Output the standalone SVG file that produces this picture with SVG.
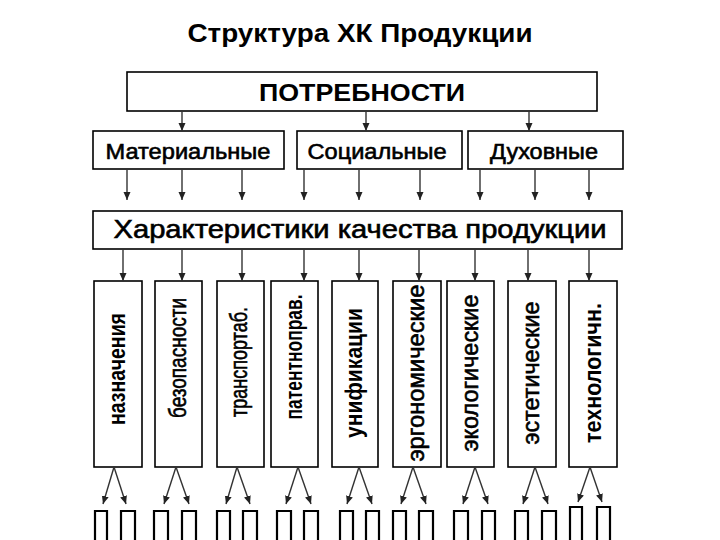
<svg xmlns="http://www.w3.org/2000/svg" width="720" height="540" viewBox="0 0 720 540">
<defs>
<marker id="ah" markerUnits="userSpaceOnUse" markerWidth="8" markerHeight="8" refX="8" refY="4" orient="auto">
<path d="M0,0.5 L8,4 L0,7.5 z" fill="#222"/>
</marker>
<style>
.box{fill:#fff;stroke:#000;stroke-width:1.6}
.t{font-family:"Liberation Sans",Arial,sans-serif;fill:#000;text-anchor:middle}
.b{font-weight:bold}
.m{stroke:#000;stroke-width:0.6}
.v{font-size:24px}
.c line{stroke:#333;stroke-width:1.4;marker-end:url(#ah)}
.o{fill:none;stroke:#000;stroke-width:2.2}
</style>
</defs>
<rect width="720" height="540" fill="#fff"/>
<text class="t b" x="360" y="42" font-size="25" textLength="345" lengthAdjust="spacingAndGlyphs">Структура ХК Продукции</text>

<g id="potrebnosti"><rect class="box" x="127" y="72" width="470" height="39"/><text class="t b" x="362" y="101" font-size="23" textLength="206" lengthAdjust="spacingAndGlyphs">ПОТРЕБНОСТИ</text></g>
<g id="materialnye"><rect class="box" x="93" y="131" width="191" height="38"/><text class="t m" x="188" y="159" font-size="22" textLength="165" lengthAdjust="spacingAndGlyphs">Материальные</text></g>
<g id="socialnye"><rect class="box" x="297" y="131" width="165" height="38"/><text class="t m" x="377" y="159" font-size="22" textLength="139" lengthAdjust="spacingAndGlyphs">Социальные</text></g>
<g id="duhovnye"><rect class="box" x="468" y="131" width="155" height="38"/><text class="t m" x="544" y="159" font-size="22" textLength="108" lengthAdjust="spacingAndGlyphs">Духовные</text></g>
<g id="harakteristiki"><rect class="box" x="93" y="211" width="529" height="38"/><text class="t m" x="360" y="238" font-size="26" stroke-width="0.8" textLength="493" lengthAdjust="spacingAndGlyphs">Характеристики качества продукции</text></g>

<g id="v1"><rect class="box" x="94" y="281" width="48" height="186"/><text class="t b v" transform="translate(118,369) rotate(-90)" y="7" textLength="112" lengthAdjust="spacingAndGlyphs">назначения</text></g>
<g id="v2"><rect class="box" x="155" y="281" width="47" height="186"/><text class="t m v" transform="translate(179,358) rotate(-90)" y="7" textLength="120" lengthAdjust="spacingAndGlyphs">безопасности</text></g>
<g id="v3"><rect class="box" x="217" y="281" width="47" height="186"/><text class="t m v" transform="translate(240,362) rotate(-90)" y="7" textLength="110" lengthAdjust="spacingAndGlyphs">транспортаб.</text></g>
<g id="v4"><rect class="box" x="271" y="281" width="47" height="186"/><text class="t b v" transform="translate(295,357) rotate(-90)" y="7" textLength="125" lengthAdjust="spacingAndGlyphs">патентноправ.</text></g>
<g id="v5"><rect class="box" x="332" y="281" width="46" height="186"/><text class="t b v" transform="translate(355,373) rotate(-90)" y="7" textLength="130" lengthAdjust="spacingAndGlyphs">унификации</text></g>
<g id="v6"><rect class="box" x="393" y="281" width="48" height="186"/><text class="t m v" transform="translate(417,373) rotate(-90)" y="7" textLength="177" lengthAdjust="spacingAndGlyphs">эргономические</text></g>
<g id="v7"><rect class="box" x="447" y="281" width="47" height="186"/><text class="t m v" transform="translate(471,373) rotate(-90)" y="7" textLength="157" lengthAdjust="spacingAndGlyphs">экологические</text></g>
<g id="v8"><rect class="box" x="508" y="281" width="48" height="186"/><text class="t m v" transform="translate(532,373) rotate(-90)" y="7" textLength="143" lengthAdjust="spacingAndGlyphs">эстетические</text></g>
<g id="v9"><rect class="box" x="569" y="281" width="48" height="186"/><text class="t b v" transform="translate(594,373) rotate(-90)" y="7" textLength="140" lengthAdjust="spacingAndGlyphs">технологичн.</text></g>

<g id="connectors" class="c">
<line x1="182" y1="111" x2="182" y2="131"/>
<line x1="366" y1="111" x2="366" y2="131"/>
<line x1="529" y1="111" x2="529" y2="131"/>

<line x1="127" y1="169" x2="127" y2="200"/>
<line x1="182" y1="169" x2="182" y2="200"/>
<line x1="242" y1="169" x2="242" y2="200"/>
<line x1="304" y1="169" x2="304" y2="200"/>
<line x1="359" y1="169" x2="359" y2="200"/>
<line x1="420" y1="169" x2="420" y2="200"/>
<line x1="480" y1="169" x2="480" y2="200"/>
<line x1="535" y1="169" x2="535" y2="200"/>
<line x1="589" y1="169" x2="589" y2="200"/>

<line x1="123" y1="249" x2="123" y2="281"/>
<line x1="182" y1="249" x2="182" y2="281"/>
<line x1="242" y1="249" x2="242" y2="281"/>
<line x1="304" y1="249" x2="304" y2="281"/>
<line x1="359" y1="249" x2="359" y2="281"/>
<line x1="419" y1="249" x2="419" y2="281"/>
<line x1="475" y1="249" x2="475" y2="281"/>
<line x1="528" y1="249" x2="528" y2="281"/>
<line x1="589" y1="249" x2="589" y2="281"/>

<line x1="114" y1="467" x2="103" y2="504"/><line x1="114" y1="467" x2="126" y2="504"/>
<line x1="176" y1="467" x2="164" y2="504"/><line x1="176" y1="467" x2="189" y2="504"/>
<line x1="237" y1="467" x2="226" y2="504"/><line x1="237" y1="467" x2="250" y2="504"/>
<line x1="298" y1="467" x2="286" y2="504"/><line x1="298" y1="467" x2="311" y2="504"/>
<line x1="359" y1="467" x2="347" y2="504"/><line x1="359" y1="467" x2="372" y2="504"/>
<line x1="413" y1="467" x2="401" y2="504"/><line x1="413" y1="467" x2="426" y2="504"/>
<line x1="475" y1="467" x2="463" y2="504"/><line x1="475" y1="467" x2="488" y2="504"/>
<line x1="535" y1="467" x2="523" y2="504"/><line x1="535" y1="467" x2="548" y2="504"/>
<line x1="590" y1="467" x2="578" y2="502"/><line x1="590" y1="467" x2="602" y2="502"/>
</g>

<g id="sub">
<path class="o" d="M95,540V511H107V540M121,540V511H135V540"/>
<path class="o" d="M154,540V511H168V540M182,540V511H196V540"/>
<path class="o" d="M217,540V511H230V540M243,540V511H257V540"/>
<path class="o" d="M277,540V511H291V540M304,540V511H318V540"/>
<path class="o" d="M340,540V511H353V540M366,540V511H379V540"/>
<path class="o" d="M393,540V511H406V540M419,540V511H433V540"/>
<path class="o" d="M454,540V511H468V540M482,540V511H495V540"/>
<path class="o" d="M515,540V511H528V540M542,540V511H556V540"/>
<path class="o" d="M570,540V507H582V540M597,540V507H610V540"/>
</g>
</svg>
